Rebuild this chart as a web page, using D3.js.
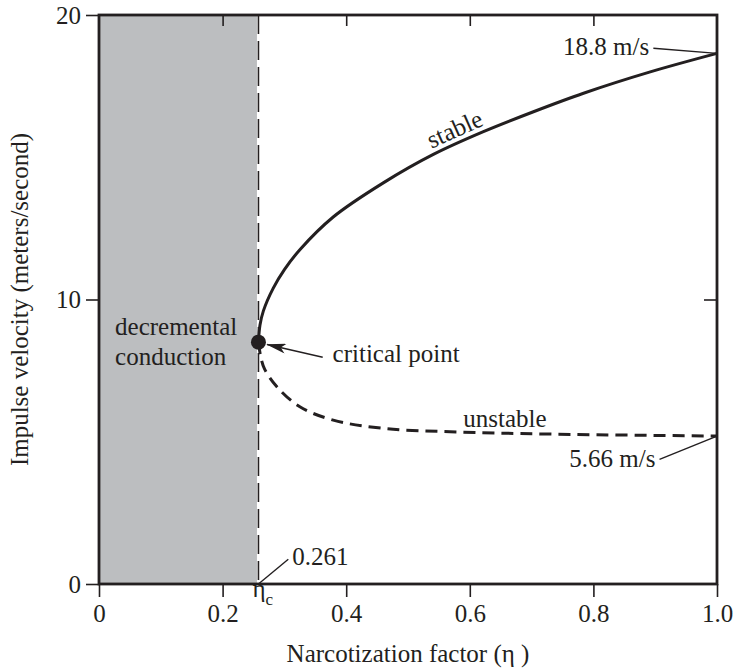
<!DOCTYPE html>
<html><head><meta charset="utf-8">
<script src="https://cdn.jsdelivr.net/npm/d3@7"></script>
<style>
html,body{margin:0;padding:0;background:#fff;}
</style></head>
<body>
<svg id="chart" width="734" height="670" font-family="'Liberation Serif', 'DejaVu Serif', serif"></svg>
<script>
// ---- data ----
const xTicks = [0, 0.2, 0.4, 0.6, 0.8, 1.0];
const xTickLabels = ["0", "0.2", "0.4", "0.6", "0.8", "1.0"];
const yTicks = [0, 10, 20];
const yTickLabels = ["0", "10", "20"];
const etaC = 0.258;            // critical narcotization factor (labelled 0.261)
const etaCLabel = "0.261";
const criticalV = 8.5;
const stableEta = [0.258, 0.2605, 0.266, 0.282, 0.300, 0.325, 0.379, 0.460, 0.541, 0.622, 0.703, 0.784, 0.892, 1.0];
const stableV   = [8.5, 9.1, 9.6, 10.4, 11.05, 11.75, 12.9, 14.1, 15.1, 15.9, 16.6, 17.25, 18.0, 18.65];
const unstableEta = [0.258, 0.262, 0.268, 0.2875, 0.325, 0.379, 0.460, 0.568, 0.730, 1.0];
const unstableV   = [8.5, 7.95, 7.55, 6.94, 6.23, 5.76, 5.47, 5.35, 5.27, 5.2];
const topLabel = "18.8 m/s";
const bottomLabel = "5.66 m/s";

// ---- layout ----
const FONT = "'Liberation Serif', 'DejaVu Serif', serif";
const svg = d3.select("#chart");
const M = {left: 99, right: 717, top: 15, bottom: 584};
const x = d3.scaleLinear().domain([0, 1]).range([M.left, M.right]);
const y = d3.scaleLinear().domain([0, 20]).range([M.bottom, M.top]);
const ink = "#231f20";
const FS = 25;

// shaded decremental-conduction region
svg.append("rect")
  .attr("x", x(0)).attr("y", y(20))
  .attr("width", x(etaC) - x(0) - 1.5).attr("height", y(0) - y(20))
  .attr("fill", "#bcbec0");

// dashed critical line
svg.append("line")
  .attr("x1", x(etaC)).attr("x2", x(etaC)).attr("y1", y(20)).attr("y2", y(0))
  .attr("stroke", ink).attr("stroke-width", 1.6).attr("stroke-dasharray", "19,7");

// axes
function styleAxis(g) {
  g.attr("font-family", FONT).attr("font-size", FS);
  g.select(".domain").remove();
  g.selectAll(".tick line").attr("stroke", ink).attr("stroke-width", 1.6);
  g.selectAll(".tick text").attr("fill", ink).attr("font-family", FONT).attr("font-size", FS);
}
svg.append("g").attr("transform", `translate(0,${M.bottom})`)
  .call(d3.axisBottom(x).tickValues(xTicks).tickFormat((d, i) => xTickLabels[i]).tickSize(13).tickPadding(7))
  .call(styleAxis);
svg.append("g").attr("transform", `translate(${M.left},0)`)
  .call(d3.axisLeft(y).tickValues(yTicks).tickFormat((d, i) => yTickLabels[i]).tickSize(13).tickPadding(5))
  .call(styleAxis);
svg.append("g").attr("transform", `translate(0,${M.top})`)
  .call(d3.axisTop(x).tickValues(xTicks.slice(1, -1)).tickFormat("").tickSize(-11))
  .call(styleAxis);
svg.append("g").attr("transform", `translate(${M.right},0)`)
  .call(d3.axisRight(y).tickValues([10]).tickFormat("").tickSize(-13))
  .call(styleAxis);

// frame
svg.append("rect")
  .attr("x", M.left).attr("y", M.top)
  .attr("width", M.right - M.left).attr("height", M.bottom - M.top)
  .attr("fill", "none").attr("stroke", ink).attr("stroke-width", 2.8);

// curves
const line = d3.line().x(d => x(d[0])).y(d => y(d[1])).curve(d3.curveCatmullRom.alpha(0.5));
svg.append("path")
  .datum(stableEta.map((e, i) => [e, stableV[i]]))
  .attr("d", line).attr("fill", "none").attr("stroke", ink).attr("stroke-width", 3);
svg.append("path")
  .datum(unstableEta.map((e, i) => [e, unstableV[i]]))
  .attr("d", line).attr("fill", "none").attr("stroke", ink).attr("stroke-width", 3)
  .attr("stroke-dasharray", "12,7");

// critical point
svg.append("circle").attr("cx", x(etaC)).attr("cy", y(criticalV)).attr("r", 7.5).attr("fill", ink);

// arrow marker
svg.append("defs").append("marker")
  .attr("id", "arr").attr("viewBox", "0 0 20 10").attr("refX", 19).attr("refY", 5)
  .attr("markerWidth", 20).attr("markerHeight", 10).attr("markerUnits", "userSpaceOnUse")
  .attr("orient", "auto")
  .append("path").attr("d", "M0,0 L20,5 L0,10 L5,5 Z").attr("fill", ink);

function leader(x1, y1, x2, y2, marker) {
  const l = svg.append("line")
    .attr("x1", x(x1)).attr("y1", y(y1)).attr("x2", x(x2)).attr("y2", y(y2))
    .attr("stroke", ink).attr("stroke-width", 1.4);
  if (marker) l.attr("marker-end", "url(#arr)");
}
function label(txt, ex, ev, opts = {}) {
  const t = svg.append("text").attr("x", x(ex)).attr("y", y(ev))
    .attr("font-family", FONT).attr("fill", ink)
    .attr("font-size", opts.size || FS).text(txt);
  if (opts.anchor) t.attr("text-anchor", opts.anchor);
  if (opts.rotate) t.attr("transform", `rotate(${opts.rotate},${x(ex)},${y(ev)})`);
  return t;
}

// annotations
label(topLabel, 0.751, 18.59);
leader(0.897, 18.83, 1.0, stableV[stableV.length - 1]);
label(bottomLabel, 0.761, 4.10);
leader(0.907, 4.38, 1.0, unstableV[unstableV.length - 1]);
label("critical point", 0.378, 7.81);
leader(0.362, 7.97, 0.272, 8.42, true);
label("decremental", 0.026, 8.75);
label("conduction", 0.026, 7.70);
label("unstable", 0.5895, 5.53);
label("stable", 0.581, 15.72, {anchor: "middle", rotate: -24});
label(etaCLabel, 0.3128, 0.668);
leader(0.3063, 0.868, etaC, 0);
const eta = svg.append("text").attr("x", x(etaC) - 6).attr("y", 597)
  .attr("font-family", FONT).attr("fill", ink).attr("font-size", FS);
eta.append("tspan").text("η");
eta.append("tspan").attr("dy", 8).attr("font-size", 17).text("c");

// axis titles
svg.append("text").attr("x", (M.left + M.right) / 2).attr("y", 662)
  .attr("font-family", FONT).attr("fill", ink)
  .attr("text-anchor", "middle").attr("font-size", FS).text("Narcotization factor (η )");
svg.append("text").attr("transform", `translate(28,${(M.top + M.bottom) / 2}) rotate(-90)`)
  .attr("font-family", FONT).attr("fill", ink)
  .attr("text-anchor", "middle").attr("font-size", FS).text("Impulse velocity (meters/second)");
</script>
</body></html>
